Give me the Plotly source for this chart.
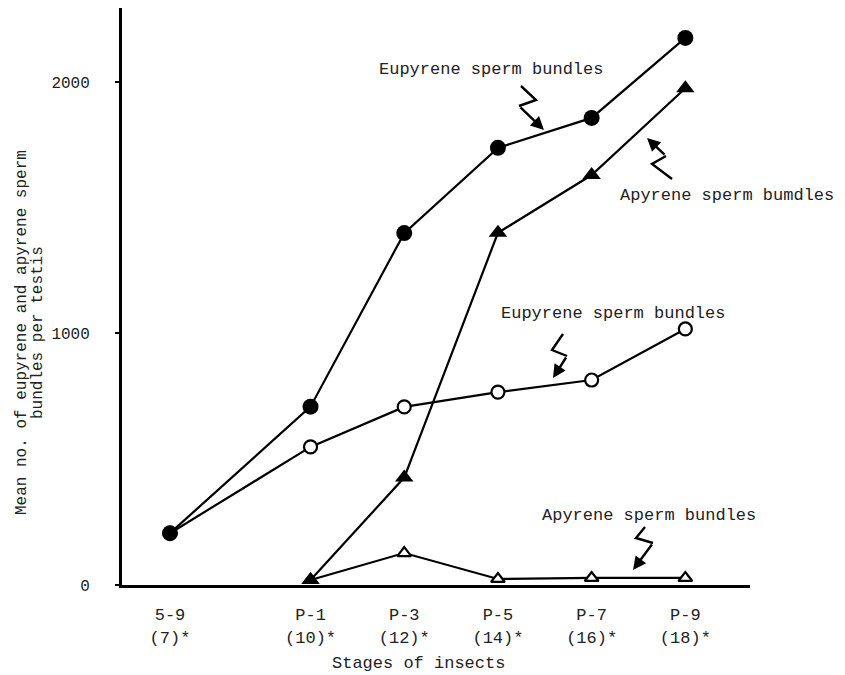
import plotly.graph_objects as go

# ---- data ----
days = [7, 10, 12, 14, 16, 18]
stage_labels = ["5-9<br>(7)*", "P-1<br>(10)*", "P-3<br>(12)*", "P-5<br>(14)*", "P-7<br>(16)*", "P-9<br>(18)*"]
eupyrene_a = [206, 709, 1399, 1738, 1857, 2175]
apyrene_a = [None, 20, 427, 1400, 1630, 1975]
eupyrene_b = [206, 549, 708, 767, 815, 1018]
apyrene_b = [None, 20, 127, 24, 28, 28]
y_ticks = [0, 1000, 2000]

FONT = "Liberation Mono"

# layout geometry (pixels)
W, H = 845, 675
L, R, T, B = 122, 95, 8, 90
PW, PH = W - L - R, H - T - B


def px(xp, yp):
    return (xp - L) / PW, (H - B - yp) / PH


fig = go.Figure()

fig.add_trace(go.Scatter(x=days, y=eupyrene_b, mode="lines+markers",
                         line=dict(color="black", width=2.2),
                         marker=dict(symbol="circle", size=13, color="white",
                                     line=dict(color="black", width=2.2)),
                         cliponaxis=False, showlegend=False))
fig.add_trace(go.Scatter(x=days, y=apyrene_b, mode="lines+markers",
                         line=dict(color="black", width=2.2),
                         marker=dict(symbol="triangle-up", size=12, color="white",
                                     line=dict(color="black", width=2.2)),
                         cliponaxis=False, showlegend=False))
fig.add_trace(go.Scatter(x=days, y=apyrene_a, mode="lines+markers",
                         line=dict(color="black", width=2.2),
                         marker=dict(symbol="triangle-up", size=16, color="black"),
                         cliponaxis=False, showlegend=False))
fig.add_trace(go.Scatter(x=days, y=eupyrene_a, mode="lines+markers",
                         line=dict(color="black", width=2.2),
                         marker=dict(symbol="circle", size=16, color="black"),
                         cliponaxis=False, showlegend=False))

# ---- text labels ----
labels = [
    ("Eupyrene sperm bundles", 491, 70),
    ("Apyrene sperm bumdles", 727, 195),
    ("Eupyrene sperm bundles", 613, 313),
    ("Apyrene sperm bundles", 649, 515),
]
for txt, cx, cy in labels:
    xx, yy = px(cx, cy)
    fig.add_annotation(x=xx, y=yy, xref="paper", yref="paper", text=txt,
                       xanchor="center", yanchor="middle",
                       showarrow=False, font=dict(family=FONT, size=17, color="#222"))

# ---- zigzag arrows ----
zigzags = [
    [(521, 86), (536, 100), (519, 106), (544, 130)],
    [(672, 179), (652, 164), (666, 156), (647, 138)],
    [(563, 334), (552, 350), (567, 356), (553, 378)],
    [(645, 527), (636, 538), (653, 543), (633, 570)],
]
for pts in zigzags:
    body = pts[:-1]
    path = ""
    for i, (a, b) in enumerate(body):
        xx, yy = px(a, b)
        path += ("M" if i == 0 else " L") + f" {xx:.5f},{yy:.5f}"
    fig.add_shape(type="path", path=path, xref="paper", yref="paper",
                  line=dict(color="black", width=2.4))
    (tx, ty), (sx, sy) = pts[-1], pts[-2]
    xx, yy = px(tx, ty)
    fig.add_annotation(x=xx, y=yy, xref="paper", yref="paper", text="",
                       showarrow=True, ax=sx - tx, ay=sy - ty,
                       arrowhead=2, arrowsize=1.1, arrowwidth=2.4, arrowcolor="black",
                       standoff=0, startstandoff=0)

# ---- y axis title (two lines) ----
for txt, xp in [("Mean no. of eupyrene and apyrene sperm", 22), ("bundles per testis", 38)]:
    xx, yy = px(xp, 333)
    fig.add_annotation(x=xx, y=yy, xref="paper", yref="paper", text=txt, textangle=-90,
                       xanchor="center", yanchor="middle",
                       showarrow=False, font=dict(family=FONT, size=16, color="#222"))

# ---- x axis title ----
xx, yy = px(418, 663)
fig.add_annotation(x=xx, y=yy, xref="paper", yref="paper", text="Stages of insects",
                   xanchor="center", yanchor="middle",
                   showarrow=False, font=dict(family=FONT, size=17, color="#222"))

fig.update_xaxes(range=[5.976, 19.38], tickmode="array", tickvals=days, ticktext=stage_labels,
                 showline=True, linecolor="black", linewidth=3, ticks="",
                 showgrid=False, zeroline=False, ticklabelstandoff=12,
                 tickfont=dict(family=FONT, size=17, color="#222"))
fig.update_yaxes(range=[0, 2294], tickmode="array", tickvals=y_ticks,
                 showline=True, linecolor="black", linewidth=3, ticks="outside",
                 ticklen=4, tickwidth=2, tickcolor="black",
                 showgrid=False, zeroline=False, ticklabelstandoff=22,
                 tickfont=dict(family=FONT, size=16, color="#222"))

fig.update_layout(width=W, height=H, margin=dict(l=L, r=R, t=T, b=B, autoexpand=False),
                  plot_bgcolor="white", paper_bgcolor="white", showlegend=False)

fig.write_html("out.html", config={"displayModeBar": False},
               post_script="document.body.style.margin='0px';")
